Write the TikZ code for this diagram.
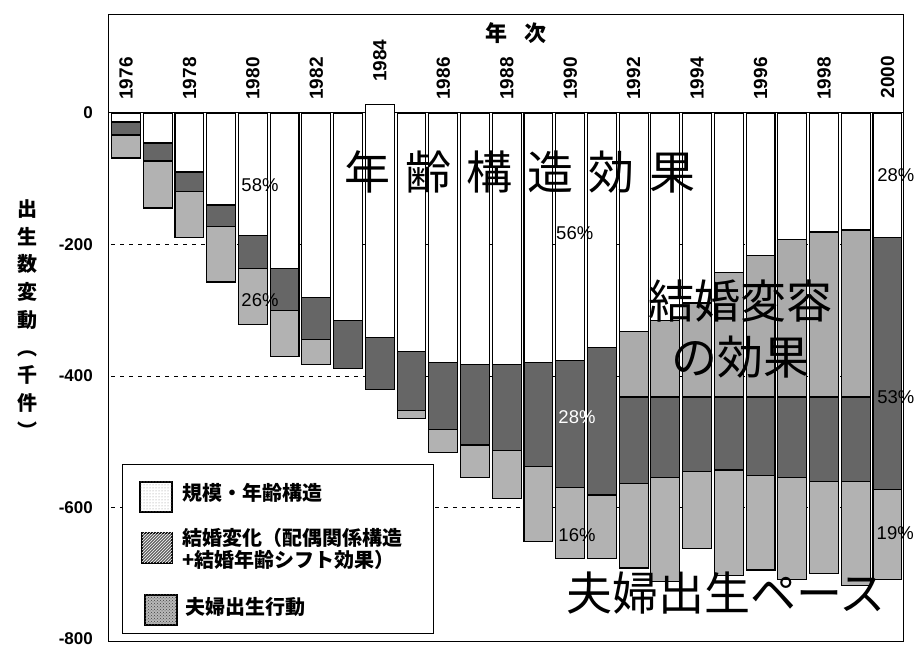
\documentclass[tikz,border=0pt]{standalone}
\usepackage{fontspec}
\setmainfont{Liberation Sans}
\newfontfamily\jpfont{Noto Sans CJK JP}
\usetikzlibrary{patterns}
\begin{document}
\begin{tikzpicture}[x=1pt,y=1pt,
  agebar/.style={draw=black,line width=1.1pt,fill=white},
  midbar/.style={draw=black,line width=1.1pt,fill=black!33},
  wedbar/.style={draw=black,line width=1.1pt,fill=black!60},
  paybar/.style={draw=black,line width=1.1pt,fill=black!30},
  gridline/.style={line width=.9pt,dash pattern=on 4pt off 5pt},
  yr/.style={rotate=90,anchor=west,inner sep=0pt,font=\fontsize{19}{19}\selectfont\bfseries},
  ticklbl/.style={anchor=east,inner sep=0pt,font=\fontsize{17}{17}\selectfont\bfseries},
  pct/.style={inner sep=0pt,font=\fontsize{18.5}{18.5}\selectfont},
  bigtxt/.style={inner sep=0pt,align=center,font=\jpfont\fontsize{46}{56}\selectfont},
  lgd/.style={anchor=west,inner sep=0pt,align=left,font=\jpfont\bfseries\fontsize{20}{22}\selectfont},
  swatch/.style={draw=black,line width=1.4pt}]
\useasboundingbox (0,0) rectangle (922,653);
% frame, header and grid
\draw[line width=1pt] (108,11) rectangle (903,638);
\draw[line width=1pt] (108,540) -- (903,540);
\draw[gridline] (111,408.5) -- (903,408.5) (111,277) -- (903,277) (111,145.5) -- (903,145.5);
\node[font=\jpfont\bfseries\fontsize{22}{22}\selectfont] (nenji) at (516,620) {年\hspace{18pt}次};
\node[ticklbl] (t0) at (93,540) {0};
\node[ticklbl] (t200) at (93,408.5) {-200};
\node[ticklbl] (t400) at (93,277) {-400};
\node[ticklbl] (t600) at (93,145.5) {-600};
\node[ticklbl] (t800) at (93,14) {-800};
\node[align=center,inner sep=0pt,font=\jpfont\bfseries\fontsize{20}{27.75}\selectfont] (ytitle) at (27,334) {出\\生\\数\\変\\動\\︵\\千\\件\\︶};
% bars
\begin{scope}[shift={(111.5pt,540pt)},x=31.73pt,y=0.6575pt]
\draw[agebar] (0,0) rectangle (.91,-13.7); \draw[wedbar] (0,-13.7) rectangle (.91,-33.5); \draw[paybar] (0,-33.5) rectangle (.91,-68.4);
\draw[agebar] (1,0) rectangle (1.91,-45.6); \draw[wedbar] (1,-45.6) rectangle (1.91,-73); \draw[paybar] (1,-73) rectangle (1.91,-144.5);
\draw[agebar] (2,0) rectangle (2.91,-89.7); \draw[wedbar] (2,-89.7) rectangle (2.91,-120); \draw[paybar] (2,-120) rectangle (2.91,-190);
\draw[agebar] (3,0) rectangle (3.91,-140); \draw[wedbar] (3,-140) rectangle (3.91,-172); \draw[paybar] (3,-172) rectangle (3.91,-257);
\draw[agebar] (4,0) rectangle (4.91,-187); \draw[wedbar] (4,-187) rectangle (4.91,-237); \draw[paybar] (4,-237) rectangle (4.91,-322);
\draw[agebar] (5,0) rectangle (5.91,-236); \draw[wedbar] (5,-236) rectangle (5.91,-300); \draw[paybar] (5,-300) rectangle (5.91,-371);
\draw[agebar] (6,0) rectangle (6.91,-280); \draw[wedbar] (6,-280) rectangle (6.91,-345); \draw[paybar] (6,-345) rectangle (6.91,-383);
\draw[agebar] (7,0) rectangle (7.91,-315); \draw[wedbar] (7,-315) rectangle (7.91,-389);
\draw[agebar] (8,13) rectangle (8.91,-342); \draw[wedbar] (8,-342) rectangle (8.91,-421);
\draw[agebar] (9,0) rectangle (9.91,-363); \draw[wedbar] (9,-363) rectangle (9.91,-452); \draw[paybar] (9,-452) rectangle (9.91,-465);
\draw[agebar] (10,0) rectangle (10.91,-379); \draw[wedbar] (10,-379) rectangle (10.91,-482); \draw[paybar] (10,-482) rectangle (10.91,-516);
\draw[agebar] (11,0) rectangle (11.91,-383); \draw[wedbar] (11,-383) rectangle (11.91,-505); \draw[paybar] (11,-505) rectangle (11.91,-554);
\draw[agebar] (12,0) rectangle (12.91,-383); \draw[wedbar] (12,-383) rectangle (12.91,-513); \draw[paybar] (12,-513) rectangle (12.91,-586);
\draw[agebar] (13,0) rectangle (13.91,-380); \draw[wedbar] (13,-380) rectangle (13.91,-538); \draw[paybar] (13,-538) rectangle (13.91,-652);
\draw[agebar] (14,0) rectangle (14.91,-376); \draw[wedbar] (14,-376) rectangle (14.91,-569); \draw[paybar] (14,-569) rectangle (14.91,-678);
\draw[agebar] (15,0) rectangle (15.91,-357); \draw[wedbar] (15,-357) rectangle (15.91,-581); \draw[paybar] (15,-581) rectangle (15.91,-677);
\draw[agebar] (16,0) rectangle (16.91,-333); \draw[midbar] (16,-333) rectangle (16.91,-432); \draw[wedbar] (16,-432) rectangle (16.91,-563); \draw[paybar] (16,-563) rectangle (16.91,-692);
\draw[agebar] (17,0) rectangle (17.91,-315); \draw[midbar] (17,-315) rectangle (17.91,-432); \draw[wedbar] (17,-432) rectangle (17.91,-554); \draw[paybar] (17,-554) rectangle (17.91,-713);
\draw[agebar] (18,0) rectangle (18.91,-289); \draw[midbar] (18,-289) rectangle (18.91,-432); \draw[wedbar] (18,-432) rectangle (18.91,-545); \draw[paybar] (18,-545) rectangle (18.91,-662);
\draw[agebar] (19,0) rectangle (19.91,-243); \draw[midbar] (19,-243) rectangle (19.91,-432); \draw[wedbar] (19,-432) rectangle (19.91,-543); \draw[paybar] (19,-543) rectangle (19.91,-703);
\draw[agebar] (20,0) rectangle (20.91,-217); \draw[midbar] (20,-217) rectangle (20.91,-432); \draw[wedbar] (20,-432) rectangle (20.91,-552); \draw[paybar] (20,-552) rectangle (20.91,-695);
\draw[agebar] (21,0) rectangle (21.91,-192); \draw[midbar] (21,-192) rectangle (21.91,-432); \draw[wedbar] (21,-432) rectangle (21.91,-554); \draw[paybar] (21,-554) rectangle (21.91,-710);
\draw[agebar] (22,0) rectangle (22.91,-181); \draw[midbar] (22,-181) rectangle (22.91,-432); \draw[wedbar] (22,-432) rectangle (22.91,-560); \draw[paybar] (22,-560) rectangle (22.91,-700);
\draw[agebar] (23,0) rectangle (23.91,-178); \draw[midbar] (23,-178) rectangle (23.91,-432); \draw[wedbar] (23,-432) rectangle (23.91,-561); \draw[paybar] (23,-561) rectangle (23.91,-718);
\draw[agebar] (24,0) rectangle (24.91,-190); \draw[wedbar] (24,-190) rectangle (24.91,-573); \draw[paybar] (24,-573) rectangle (24.91,-710);
% years
\node[yr] (y1976) at (.457,20) {1976};
\node[yr] (y1978) at (2.457,20) {1978};
\node[yr] (y1980) at (4.457,20) {1980};
\node[yr] (y1982) at (6.457,20) {1982};
\node[yr] (y1984) at (8.457,47) {1984};
\node[yr] (y1986) at (10.457,20) {1986};
\node[yr] (y1988) at (12.457,20) {1988};
\node[yr] (y1990) at (14.457,20) {1990};
\node[yr] (y1992) at (16.457,20) {1992};
\node[yr] (y1994) at (18.457,20) {1994};
\node[yr] (y1996) at (20.457,20) {1996};
\node[yr] (y1998) at (22.457,20) {1998};
\node[yr] (y2000) at (24.457,22) {2000};
% shares
\node[pct] (p58) at (4.68,-109.5) {58\%};
\node[pct] (p26) at (4.68,-284) {26\%};
\node[pct] (p56) at (14.6,-182.5) {56\%};
\node[pct,text=white] (p28a) at (14.67,-462) {28\%};
\node[pct] (p16) at (14.67,-642) {16\%};
\node[pct] (p28b) at (24.72,-94) {28\%};
\node[pct] (p53) at (24.72,-432) {53\%};
\node[pct] (p19) at (24.7,-639) {19\%};
\end{scope}
% effect labels
\node[bigtxt] (agefx) at (520,481) {年\hspace{15pt}齢\hspace{15pt}構\hspace{15pt}造\hspace{15pt}効\hspace{15pt}果};
\node[bigtxt] (wedfx) at (740,324) {結婚変容\\の効果};
\node[bigtxt] (payfx) at (726,60) {夫婦出生ペース};
% legend
\draw[line width=1pt,fill=white] (122,19) rectangle (433,188);
\draw[swatch,fill=white,postaction={pattern=dots,pattern color=black!45}] (140,141) rectangle (172,171);
\draw[swatch,fill=black!60,postaction={pattern=north east lines,pattern color=white}] (142,90) rectangle (172,120);
\draw[swatch,fill=black!28,postaction={pattern=crosshatch dots,pattern color=black!75}] (145,28) rectangle (177,58);
\node[lgd] (l1) at (182,160.5) {規模・年齢構造};
\node[lgd] (l2) at (182,104) {結婚変化（配偶関係構造\\+結婚年齢シフト効果）};
\node[lgd] (l3) at (185,46) {夫婦出生行動};
\end{tikzpicture}
\end{document}
